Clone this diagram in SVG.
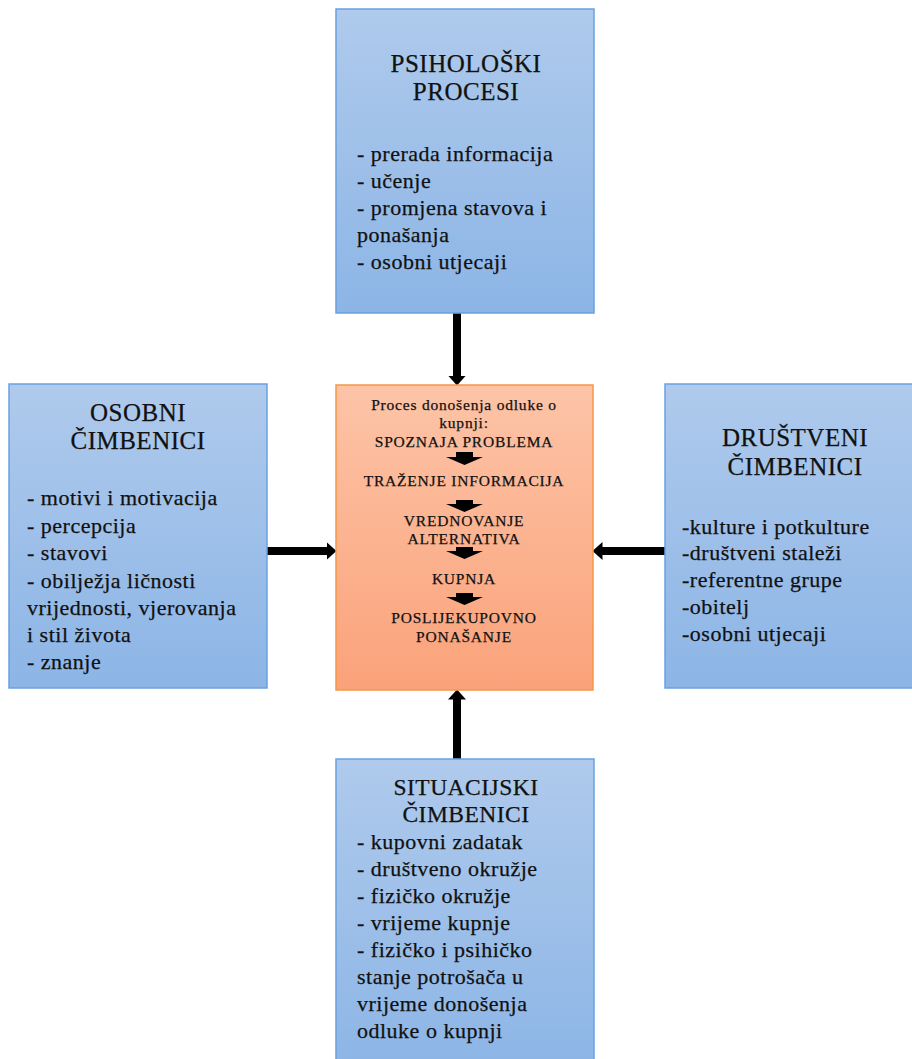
<svg xmlns="http://www.w3.org/2000/svg" width="912" height="1059" viewBox="0 0 912 1059">
<defs>
<linearGradient id="gBlue" x1="0" y1="0" x2="0" y2="1">
<stop offset="0" stop-color="#afcaec"/>
<stop offset="1" stop-color="#8cb5e6"/>
</linearGradient>
<linearGradient id="gOrange" x1="0" y1="0" x2="0" y2="1">
<stop offset="0" stop-color="#fdc4a7"/>
<stop offset="1" stop-color="#faa27a"/>
</linearGradient>
<marker id="ah" markerUnits="userSpaceOnUse" markerWidth="10" markerHeight="18" viewBox="0 0 10 18" refX="0.5" refY="9" orient="auto">
<path d="M0,0 L10,9 L0,18 Z" fill="#000"/>
</marker>
</defs>
<style>
.blue{fill:url(#gBlue);stroke:#6aa1e0;stroke-width:1.5}
.orange{fill:url(#gOrange);stroke:#f79646;stroke-width:1.5}
text{font-family:"Liberation Serif","Times New Roman",serif;fill:#111;stroke:#111;stroke-width:0.25}
.t{font-size:25px;letter-spacing:0.5px;text-anchor:middle}
.tb{font-size:23.5px;letter-spacing:0.5px;text-anchor:middle}
.l{font-size:22px;letter-spacing:0.5px}
.c{font-size:15.5px;letter-spacing:0.8px;text-anchor:middle}
.conn{stroke:#000;stroke-width:8;fill:none}
</style>
<g id="connectors">
<line class="conn" x1="457" y1="313" x2="457" y2="376" marker-end="url(#ah)"/>
<line class="conn" x1="267" y1="551" x2="327" y2="551" marker-end="url(#ah)"/>
<line class="conn" x1="665" y1="551" x2="602" y2="551" marker-end="url(#ah)"/>
<line class="conn" x1="457" y1="759" x2="457" y2="699" marker-end="url(#ah)"/>
</g>
<g id="psiholoski">
<rect class="blue" x="336" y="9" width="258" height="304"/>
<text class="t" x="466" y="72">PSIHOLOŠKI</text>
<text class="t" x="466" y="100">PROCESI</text>
<text class="l" x="357" y="161">- prerada informacija</text>
<text class="l" x="357" y="188">- učenje</text>
<text class="l" x="357" y="215">- promjena stavova i</text>
<text class="l" x="357" y="242">ponašanja</text>
<text class="l" x="357" y="269">- osobni utjecaji</text>
</g>
<g id="osobni">
<rect class="blue" x="9" y="384" width="258" height="304"/>
<text class="t" x="138" y="421">OSOBNI</text>
<text class="t" x="138" y="449">ČIMBENICI</text>
<text class="l" x="27" y="505">- motivi i motivacija</text>
<text class="l" x="27" y="533">- percepcija</text>
<text class="l" x="27" y="560">- stavovi</text>
<text class="l" x="27" y="588">- obilježja ličnosti</text>
<text class="l" x="27" y="615">vrijednosti, vjerovanja</text>
<text class="l" x="27" y="642">i stil života</text>
<text class="l" x="27" y="669">- znanje</text>
</g>
<g id="drustveni">
<rect class="blue" x="665" y="384" width="260" height="304"/>
<text class="t" x="795" y="446">DRUŠTVENI</text>
<text class="t" x="795" y="475">ČIMBENICI</text>
<text class="l" x="682" y="534">-kulture i potkulture</text>
<text class="l" x="682" y="560">-društveni staleži</text>
<text class="l" x="682" y="587">-referentne grupe</text>
<text class="l" x="682" y="614">-obitelj</text>
<text class="l" x="682" y="641">-osobni utjecaji</text>
</g>
<g id="proces">
<rect class="orange" x="336" y="385" width="257" height="305"/>
<text class="c" x="464" y="410">Proces donošenja odluke o</text>
<text class="c" x="464" y="428">kupnji:</text>
<text class="c" x="464" y="447">SPOZNAJA PROBLEMA</text>
<path d="M456,452 H473 V457 H483 L464.5,465 L446,457 H456 Z" fill="#000"/>
<text class="c" x="464" y="486">TRAŽENJE INFORMACIJA</text>
<path d="M456,500 H473 V504 H483 L464.5,512 L446,504 H456 Z" fill="#000"/>
<text class="c" x="464" y="526">VREDNOVANJE</text>
<text class="c" x="464" y="544">ALTERNATIVA</text>
<path d="M456,547 H473 V551 H483 L464.5,559 L446,551 H456 Z" fill="#000"/>
<text class="c" x="464" y="584">KUPNJA</text>
<path d="M456,593 H473 V597 H483 L464.5,605 L446,597 H456 Z" fill="#000"/>
<text class="c" x="464" y="623">POSLIJEKUPOVNO</text>
<text class="c" x="464" y="642">PONAŠANJE</text>
</g>
<g id="situacijski">
<rect class="blue" x="336" y="759" width="258" height="310"/>
<text class="tb" x="466" y="795">SITUACIJSKI</text>
<text class="tb" x="466" y="822">ČIMBENICI</text>
<text class="l" x="357" y="849">- kupovni zadatak</text>
<text class="l" x="357" y="876">- društveno okružje</text>
<text class="l" x="357" y="903">- fizičko okružje</text>
<text class="l" x="357" y="930">- vrijeme kupnje</text>
<text class="l" x="357" y="957">- fizičko i psihičko</text>
<text class="l" x="357" y="984">stanje potrošača u</text>
<text class="l" x="357" y="1011">vrijeme donošenja</text>
<text class="l" x="357" y="1038">odluke o kupnji</text>
</g>
</svg>
